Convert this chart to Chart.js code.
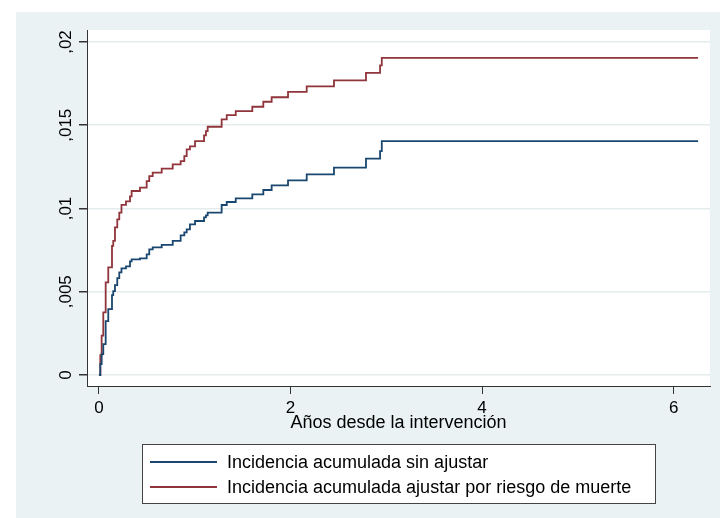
<!DOCTYPE html>
<html>
<head>
<meta charset="utf-8">
<script src="https://cdn.jsdelivr.net/npm/chart.js@4"></script>
<style>
  html, body { margin: 0; padding: 0; background: #fff; }
  #wrap { width: 720px; height: 518px; }
</style>
</head>
<body>
<div id="wrap"><canvas id="chart" width="720" height="518"></canvas></div>
<script>
// event times (years) and cumulative incidence after each event
const times = [0, 0.014, 0.028, 0.045, 0.070, 0.097, 0.136, 0.149, 0.167, 0.191, 0.212, 0.235, 0.282, 0.324, 0.341,
  0.428, 0.498, 0.525, 0.561, 0.655, 0.770, 0.853, 0.891, 0.916, 0.950, 1.003, 1.097, 1.117, 1.135, 1.281,
  1.334, 1.428, 1.601, 1.716, 1.803, 1.974, 2.169, 2.454, 2.788, 2.935, 2.953, 6.256];
const unadjusted = [0, 0.00066, 0.00126, 0.00186, 0.00324, 0.00396, 0.00480, 0.00504, 0.00540, 0.00582, 0.00616, 0.00640, 0.00653, 0.00683, 0.00695,
  0.00701, 0.00725, 0.00755, 0.00766, 0.00781, 0.00805, 0.00839, 0.00857, 0.00875, 0.00905, 0.00925, 0.00947, 0.00959, 0.00975, 0.01021,
  0.01039, 0.01061, 0.01085, 0.01111, 0.01139, 0.01169, 0.01205, 0.01245, 0.01299, 0.01345, 0.01405, 0.01405];
const adjusted = [0, 0.00120, 0.00236, 0.00376, 0.00556, 0.00646, 0.00775, 0.00805, 0.00887, 0.00935, 0.00975, 0.01022, 0.01043, 0.01073, 0.01105,
  0.01125, 0.01165, 0.01195, 0.01215, 0.01239, 0.01265, 0.01285, 0.01315, 0.01355, 0.01373, 0.01405, 0.01439, 0.01465, 0.01491, 0.01535,
  0.01561, 0.01585, 0.01611, 0.01641, 0.01668, 0.01700, 0.01734, 0.01770, 0.01815, 0.01859, 0.01905, 0.01905];

const seriesLabels = ["Incidencia acumulada sin ajustar", "Incidencia acumulada ajustar por riesgo de muerte"];
const xTicks = [0, 2, 4, 6];
const yTicks = [0, 0.005, 0.01, 0.015, 0.02];
const yTickLabels = ["0", ",005", ",01", ",015", ",02"];
const xTitle = "Años desde la intervención";

const NAVY = "#1a476f";
const MAROON = "#90353b";
const PANEL = "#eaf2f3";
const AXIS = "#333333";
const FONT = "'Liberation Sans', Arial, sans-serif";

Chart.defaults.font.family = FONT;
Chart.defaults.font.size = 17;
Chart.defaults.color = "#000";

function toPoints(vals) {
    return times.map((t, i) => ({x: t, y: vals[i]}));
}

// gray outer panel with white plot region
const background = {
    id: "background",
    beforeDraw(chart) {
        const c = chart.ctx;
        const a = chart.chartArea;
        c.save();
        c.fillStyle = "#fff";
        c.fillRect(0, 0, chart.width, chart.height);
        c.fillStyle = PANEL;
        c.fillRect(16, 12, chart.width - 16, chart.height - 12);
        c.fillStyle = "#fff";
        c.fillRect(a.left, a.top, a.right - a.left, a.bottom - a.top);
        c.restore();
    }
};

// boxed legend under the axis title
const boxLegend = {
    id: "boxLegend",
    afterDraw(chart) {
        const c = chart.ctx;
        c.save();
        c.fillStyle = "#fff";
        c.fillRect(142, 444, 513, 59);
        c.strokeStyle = "#444";
        c.lineWidth = 1;
        c.strokeRect(142.5, 444.5, 513, 59);
        chart.data.datasets.forEach((ds, i) => {
            const y = 462 + i * 25;
            c.strokeStyle = ds.borderColor;
            c.lineWidth = 1.8;
            c.beginPath();
            c.moveTo(150, y);
            c.lineTo(217, y);
            c.stroke();
            c.fillStyle = "#000";
            c.font = "18px " + FONT;
            c.textBaseline = "middle";
            c.fillText(ds.label, 227, y + 1);
        });
        c.restore();
    }
};

new Chart(document.getElementById("chart"), {
    type: "line",
    data: {
        datasets: [
            {
                label: seriesLabels[0],
                data: toPoints(unadjusted),
                borderColor: NAVY,
                borderWidth: 1.8,
                stepped: "before",
                pointRadius: 0,
                fill: false
            }, {
                label: seriesLabels[1],
                data: toPoints(adjusted),
                borderColor: MAROON,
                borderWidth: 1.8,
                stepped: "before",
                pointRadius: 0,
                fill: false
            }
        ]
    },
    options: {
        responsive: false,
        animation: false,
        layout: {padding: {left: 0, top: 30, right: 10, bottom: 84}},
        plugins: {
            legend: {display: false},
            tooltip: {enabled: false}
        },
        scales: {
            x: {
                type: "linear",
                min: -0.125,
                max: 6.38,
                afterBuildTicks: s => { s.ticks = xTicks.map(v => ({value: v})); },
                afterFit: s => { s.height = 48; },
                grid: {drawOnChartArea: false, tickLength: 8, tickColor: AXIS},
                border: {display: true, color: AXIS, width: 1},
                ticks: {padding: 4, maxRotation: 0, color: "#000"},
                title: {display: true, text: xTitle, color: "#000", padding: 0, font: {size: 18}}
            },
            y: {
                min: -0.00066,
                max: 0.02072,
                afterBuildTicks: s => { s.ticks = yTicks.map(v => ({value: v})); },
                afterFit: s => { s.width = 87; },
                grid: {color: "#e4ecee", lineWidth: 1.5, tickLength: 8, tickColor: AXIS},
                border: {display: true, color: AXIS, width: 1},
                ticks: {
                    minRotation: 90,
                    maxRotation: 90,
                    crossAlign: "center",
                    padding: -3.5,
                    color: "#000",
                    callback: (v, i) => yTickLabels[i]
                }
            }
        }
    },
    plugins: [background, boxLegend]
});
</script>
</body>
</html>
